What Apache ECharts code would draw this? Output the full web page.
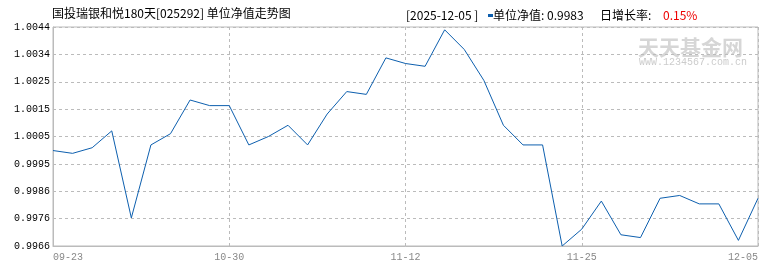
<!DOCTYPE html>
<html>
<head>
<meta charset="utf-8">
<script src="https://cdn.jsdelivr.net/npm/echarts@6/dist/echarts.min.js"></script>
<style>html,body{margin:0;padding:0;background:#fff}#c{width:770px;height:270px}</style>
</head>
<body>
<div id="c"></div>
<script>
const titleText = '国投瑞银和悦180天[025292] 单位净值走势图';
const seriesName = '单位净值';
const year = '2025';
const categories = ['09-23','09-26','09-30','10-10','10-17','10-24','10-27','10-28','10-29','10-30',
  '10-31','11-03','11-04','11-05','11-06','11-07','11-10','11-11','11-12',
  '11-13','11-14','11-17','11-18','11-19','11-20','11-21','11-24','11-25',
  '11-26','11-27','11-28','11-30','12-01','12-02','12-03','12-04','12-05'];
const navValues = [1.0000,0.9999,1.0001,1.0007,0.9976,1.0002,1.0006,1.0018,1.0016,1.0016,
  1.0002,1.0005,1.0009,1.0002,1.0013,1.0021,1.0020,1.0033,1.0031,
  1.0030,1.0043,1.0036,1.0025,1.0009,1.0002,1.0002,0.9966,0.9972,
  0.9982,0.9970,0.9969,0.9983,0.9984,0.9981,0.9981,0.9968,0.9983];
const yTickLabels = ['0.9966','0.9976','0.9986','0.9995','1.0005','1.0015','1.0025','1.0034','1.0044'];
const yMin = 0.9966, yMax = 1.0044;

const last = navValues[navValues.length - 1];
const prev = navValues[navValues.length - 2];
const growth = ((last / prev - 1) * 100).toFixed(2) + '%';
const lastDate = year + '-' + categories[categories.length - 1];

const cjk = '"Noto Sans CJK SC", "Noto Sans", sans-serif';
const mono = '"Liberation Mono", "DejaVu Sans Mono", monospace';

const chart = echarts.init(document.getElementById('c'), null, {renderer: 'canvas'});
chart.setOption({
  animation: false,
  backgroundColor: '#fff',
  title: {
    text: titleText, left: 52, top: 7, padding: 0,
    textStyle: {fontSize: 12, fontWeight: 'normal', color: '#000', fontFamily: cjk}
  },
  grid: {left: 53, right: 12, top: 27, bottom: 24, show: true, borderColor: '#bbb', borderWidth: 1, containLabel: false},
  xAxis: {
    type: 'category', data: categories, boundaryGap: false,
    axisLine: {lineStyle: {color: '#bbb'}},
    axisTick: {show: false},
    axisLabel: {interval: 8, color: '#888', fontSize: 10, fontFamily: mono, margin: 6,
      showMinLabel: true, showMaxLabel: true, alignMinLabel: 'left', alignMaxLabel: 'right'},
    splitLine: {show: true, interval: 8, lineStyle: {color: '#bbb', type: [3, 3]}}
  },
  yAxis: {
    type: 'value', min: yMin, max: yMax, interval: (yMax - yMin) / 8,
    axisLine: {show: true, lineStyle: {color: '#bbb'}},
    axisTick: {show: false},
    axisLabel: {color: '#000', fontSize: 10, fontFamily: mono, margin: 3,
      formatter: (v, i) => yTickLabels[i] !== undefined ? yTickLabels[i] : v.toFixed(4)},
    splitLine: {show: true, lineStyle: {color: '#bbb', type: [3, 3]}}
  },
  series: [{
    name: seriesName, type: 'line', data: navValues, symbol: 'none',
    lineStyle: {color: '#0d5fae', width: 1}, itemStyle: {color: '#0d5fae'}
  }],
  graphic: [
    {type: 'text', x: 406, y: 15, style: {text: '[' + lastDate + ' ]', font: '12px ' + cjk, fill: '#000', verticalAlign: 'middle'}},
    {type: 'rect', shape: {x: 488, y: 14, width: 5, height: 3}, style: {fill: '#0d5fae'}},
    {type: 'text', x: 493, y: 15, style: {text: seriesName + ': ' + last.toFixed(4), font: '12px ' + cjk, fill: '#000', verticalAlign: 'middle'}},
    {type: 'text', x: 600, y: 15, style: {text: '日增长率:', font: '12px ' + cjk, fill: '#000', verticalAlign: 'middle'}},
    {type: 'text', x: 663, y: 15, style: {text: growth, font: '12px ' + cjk, fill: '#e00', verticalAlign: 'middle'}},
    {type: 'text', x: 638, y: 47, z: -1, style: {text: '天天基金网', font: 'bold 21px ' + cjk, fill: '#d6d6d6', verticalAlign: 'middle'}},
    {type: 'text', x: 639, y: 62, z: -1, style: {text: 'WWW.1234567.com.cn', font: '10px ' + mono, fill: '#ccc', verticalAlign: 'middle'}}
  ]
});
</script>
</body>
</html>
